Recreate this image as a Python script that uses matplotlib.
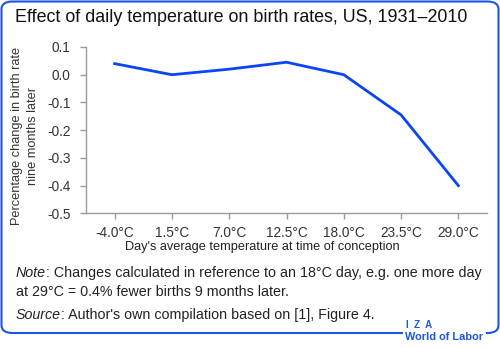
import matplotlib
matplotlib.use('Agg')
import matplotlib.pyplot as plt
from matplotlib.patches import FancyBboxPatch

temps = ['-4.0°C', '1.5°C', '7.0°C', '12.5°C', '18.0°C', '23.5°C', '29.0°C']
change = [0.04, 0.0, 0.02, 0.045, 0.0, -0.145, -0.40]
yticks = [0.1, 0.0, -0.1, -0.2, -0.3, -0.4, -0.5]

plt.rcParams['font.family'] = ['Liberation Sans', 'DejaVu Sans']
blue = '#1a55e8'
grey = '#9a9a9a'
W, H = 500, 348

fig = plt.figure(figsize=(5, 3.48), dpi=100)
ax = fig.add_axes([86 / W, 1 - 213.3 / H, (487 - 86) / W, (213.3 - 47) / H])

x = list(range(len(temps)))
ax.plot(x, change, color='#0a44f5', linewidth=2.0)
ax.set_xlim(-0.5, 6.5)
ax.set_ylim(-0.5, 0.1)
ax.set_yticks(yticks)
ax.set_yticklabels([f'{v:.1f}' for v in yticks], fontsize=9.8, color='#333333')
ax.set_xticks(x)
ax.set_xticklabels(temps, fontsize=9.8, color='#333333')
for s in ['top', 'right']:
    ax.spines[s].set_visible(False)
for s in ['left', 'bottom']:
    ax.spines[s].set_color(grey)
    ax.spines[s].set_linewidth(1.0)
ax.tick_params(axis='both', color=grey, length=4, width=1)
ax.tick_params(axis='x', pad=5)
ax.tick_params(axis='y', pad=7)

fig.text(25 / W, 1 - 136 / H, 'Percentage change in birth rate\nnine months later',
         rotation=90, ha='center', va='center', fontsize=9.2, color='#333333',
         linespacing=1.45)
fig.text(262 / W, 1 - 247 / H, "Day's average temperature at time of conception",
         ha='center', va='center', fontsize=9.2, color='#222222')

fig.text(15 / W, 1 - 17 / H, 'Effect of daily temperature on birth rates, US, 1931–2010',
         ha='left', va='center', fontsize=12.9, color='#111111')

fig.canvas.draw()
r = fig.canvas.get_renderer()
note = fig.text(16 / W, 1 - 273 / H, 'Note', ha='left', va='center', fontsize=10.3,
                style='italic', color='#222222')
bb = note.get_window_extent(r)
fig.text(bb.x1 / W, 1 - 273 / H,
         ': Changes calculated in reference to an 18°C day, e.g. one more day',
         ha='left', va='center', fontsize=10.3, color='#222222')
fig.text(16 / W, 1 - 292 / H, 'at 29°C = 0.4% fewer births 9 months later.',
         ha='left', va='center', fontsize=10.3, color='#222222')
src = fig.text(16 / W, 1 - 315 / H, 'Source', ha='left', va='center', fontsize=10.3,
               style='italic', color='#222222')
bb = src.get_window_extent(r)
fig.text(bb.x1 / W, 1 - 315 / H, ": Author's own compilation based on [1], Figure 4.",
         ha='left', va='center', fontsize=10.3, color='#222222')

# rounded frame with the logo cutting the bottom edge
frame = FancyBboxPatch((1.5 / W, 1 - 333 / H), 497 / W, 331.5 / H,
                       boxstyle='round,pad=0,rounding_size=0.022',
                       transform=fig.transFigure, fill=False,
                       edgecolor=blue, linewidth=1.5)
fig.patches.append(frame)
fig.patches.append(FancyBboxPatch((403 / W, 1 - 342 / H), 83 / W, 14 / H,
                                  boxstyle='square,pad=0', transform=fig.transFigure,
                                  facecolor='white', edgecolor='none'))
fig.text(406 / W, 1 - 325 / H, 'I  Z  A', ha='left', va='center', fontsize=7,
         fontweight='bold', color=blue)
fig.text(405 / W, 1 - 337 / H, 'World of Labor', ha='left', va='center', fontsize=7.9,
         fontweight='bold', color=blue)

fig.savefig('out.png', dpi=100)
